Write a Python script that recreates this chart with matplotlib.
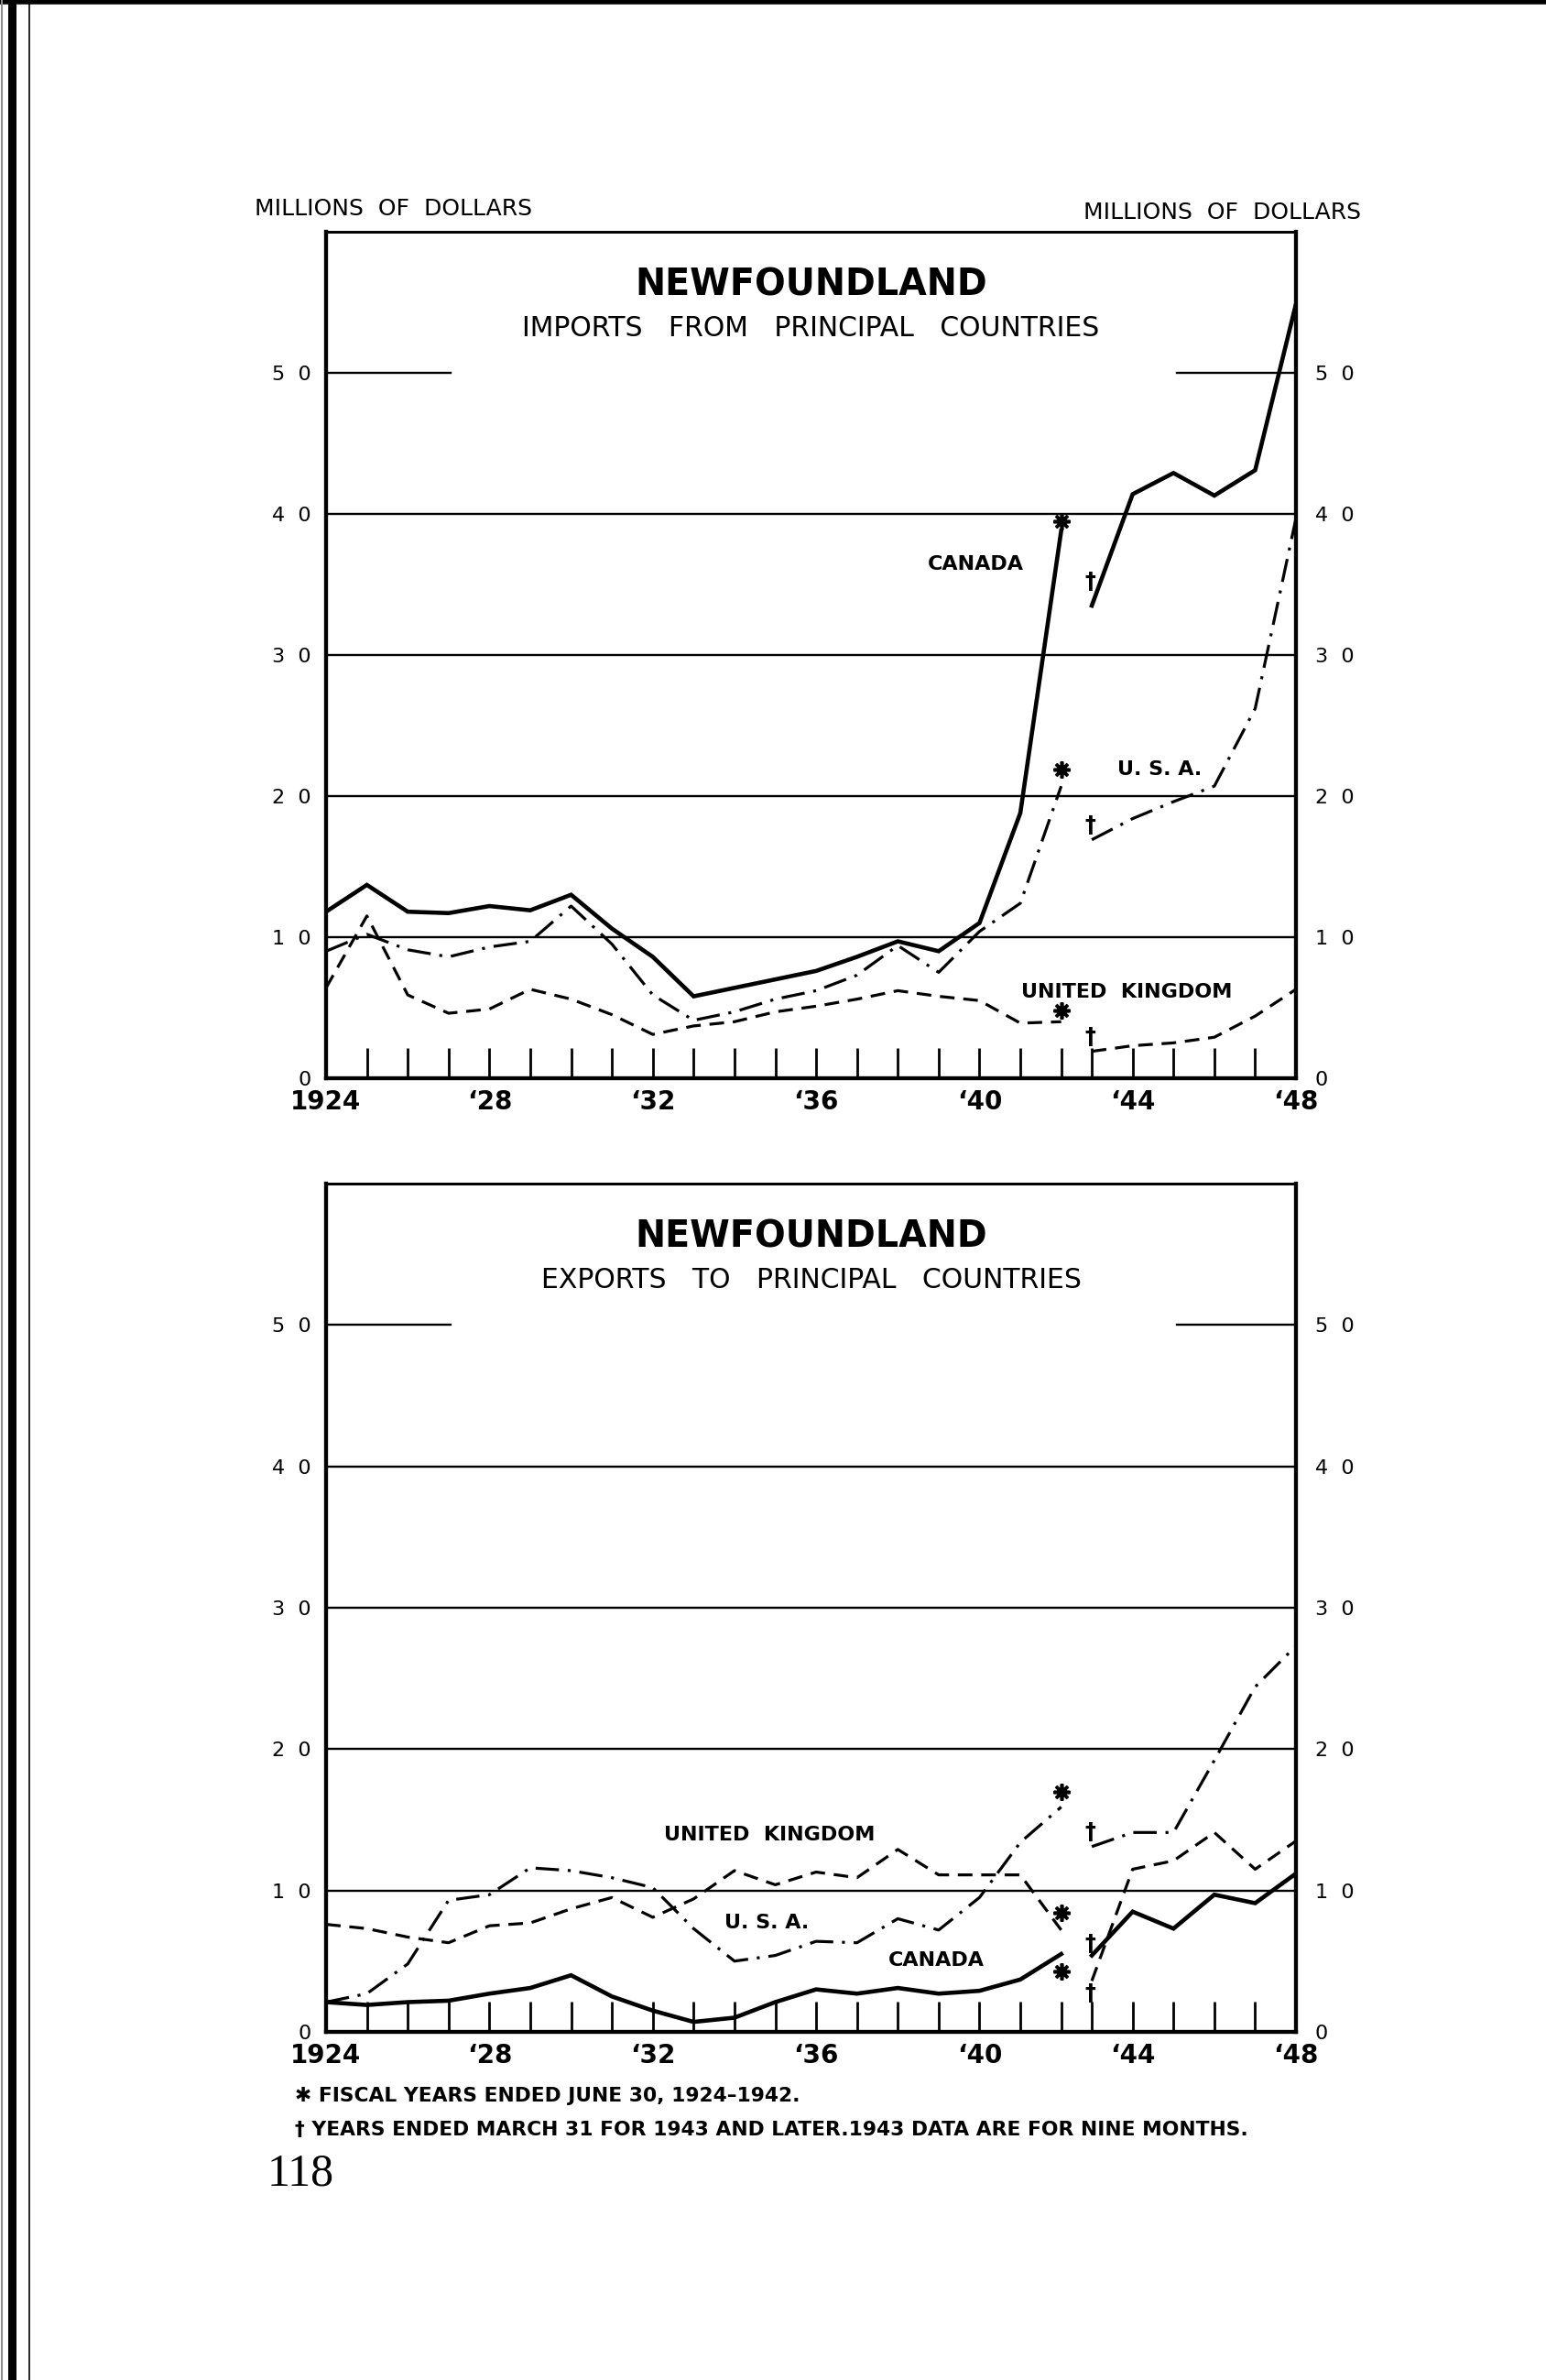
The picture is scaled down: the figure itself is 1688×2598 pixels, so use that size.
import matplotlib
matplotlib.use("Agg")
import matplotlib.pyplot as plt
from matplotlib.lines import Line2D

plt.rcParams['font.family'] = ['DejaVu Sans']

# fiscal years: 1924-1942 end June 30, 1943 on end March 31 (1943 = nine months)
years_a = list(range(1924, 1943))
years_b = list(range(1943, 1949))

# imports from principal countries, millions of dollars
canada_imp_a = [11.8, 13.7, 11.8, 11.7, 12.2, 11.9, 13.0, 10.6, 8.6, 5.8, 6.4, 7.0, 7.6, 8.6, 9.7, 9.0, 11.0, 18.8, 38.8]
canada_imp_b = [33.5, 41.4, 42.9, 41.3, 43.1, 54.9]
usa_imp_a = [9.0, 10.2, 9.1, 8.6, 9.3, 9.7, 12.2, 9.5, 5.9, 4.1, 4.7, 5.6, 6.2, 7.3, 9.4, 7.5, 10.4, 12.4, 20.7]
usa_imp_b = [16.9, 18.4, 19.6, 20.7, 26.2, 39.7]
uk_imp_a = [6.4, 11.5, 5.9, 4.6, 4.9, 6.3, 5.6, 4.5, 3.1, 3.7, 4.0, 4.7, 5.1, 5.6, 6.2, 5.8, 5.5, 3.9, 4.0]
uk_imp_b = [1.9, 2.3, 2.5, 2.9, 4.4, 6.3]

# exports to principal countries, millions of dollars
canada_exp_a = [2.1, 1.9, 2.1, 2.2, 2.7, 3.1, 4.0, 2.5, 1.5, 0.7, 1.0, 2.1, 3.0, 2.7, 3.1, 2.7, 2.9, 3.7, 5.5]
canada_exp_b = [5.4, 8.5, 7.3, 9.7, 9.1, 11.2]
usa_exp_a = [2.1, 2.7, 4.8, 9.3, 9.7, 11.6, 11.4, 10.9, 10.2, 7.3, 5.0, 5.4, 6.4, 6.3, 8.0, 7.2, 9.5, 13.4, 15.9]
usa_exp_b = [13.1, 14.1, 14.1, 19.2, 24.4, 27.3]
uk_exp_a = [7.6, 7.3, 6.7, 6.3, 7.5, 7.7, 8.7, 9.5, 8.1, 9.4, 11.4, 10.4, 11.3, 10.9, 12.9, 11.1, 11.1, 11.1, 7.2]
uk_exp_b = [3.6, 11.5, 12.1, 14.1, 11.5, 13.5]

# footnote symbols: star at 1942 end, dagger at 1943 start (canada, usa, uk)
star_imp = [39.5, 21.9, 4.8]
dagger_imp = [35.2, 17.9, 2.9]
star_exp = [4.3, 17.0, 8.4]
dagger_exp = [6.2, 14.1, 2.7]

y_ticks = [0, 10, 20, 30, 40, 50]
y_labels = ["0", "1  0", "2  0", "3  0", "4  0", "5  0"]


def xpos(year):
    # the nine-month 1943 year pulls later years a quarter to the left
    return year - 1924 - (0.25 if year >= 1943 else 0)


SOLID = dict(color="black", lw=3.3, solid_joinstyle="miter")
DASH = dict(color="black", lw=2.3, dashes=(5, 3))
DASHDOT = dict(color="black", lw=2.3, dashes=(8, 3, 1, 3))
COND = ['Liberation Sans Narrow', 'DejaVu Sans']


def panel(ax, title, subtitle, canada, usa, uk, stars, daggers, labels):
    xa = [xpos(y) for y in years_a]
    xb = [xpos(y) for y in years_b]
    ax.set_xlim(0, xpos(1948))
    ax.set_ylim(0, 60)

    for v in [10, 20, 30, 40]:
        ax.axhline(v, color="black", lw=1.7, zorder=1)
    ax.axhline(50, xmin=0, xmax=0.128, color="black", lw=1.7)
    ax.axhline(50, xmin=0.877, xmax=1, color="black", lw=1.7)

    ax.plot(xa, canada[0], **SOLID)
    ax.plot(xb, canada[1], **SOLID)
    ax.plot(xa, usa[0], **DASHDOT)
    ax.plot(xb, usa[1], **DASHDOT)
    ax.plot(xa, uk[0], **DASH)
    ax.plot(xb, uk[1], **DASH)

    for v in stars:
        ax.plot(xpos(1942), v, marker=(8, 2, 0), ms=13, mew=2.6, color="black")
    for v in daggers:
        ax.text(xpos(1943) - 0.05, v, "\u2020", ha="center", va="center",
                fontsize=17, fontweight="bold")

    all_years = years_a + years_b
    ax.set_xticks([xpos(y) for y in all_years])
    xl = []
    for y in all_years:
        if y == 1924:
            xl.append("1924")
        elif y % 4 == 0:
            xl.append("\u2018" + str(y)[2:])
        else:
            xl.append("")
    ax.set_xticklabels(xl, fontsize=20, fontweight="bold", family=COND)
    ax.tick_params(axis="x", direction="in", length=24, width=2, pad=9)

    ax.set_yticks(y_ticks)
    ax.set_yticklabels(y_labels, fontsize=16)
    ax.tick_params(axis="y", length=0, pad=12)
    ax2 = ax.twinx()
    ax2.set_ylim(0, 60)
    ax2.set_yticks(y_ticks)
    ax2.set_yticklabels(y_labels, fontsize=16)
    ax2.tick_params(axis="y", length=0, pad=15)

    for a in (ax, ax2):
        for s in ["left", "right", "bottom"]:
            a.spines[s].set_linewidth(3)
        a.spines["top"].set_linewidth(2)

    ax.text(0.5, 0.937, title, transform=ax.transAxes, ha="center", va="center",
            fontsize=28.5, fontweight="bold")
    ax.text(0.5, 0.886, subtitle, transform=ax.transAxes, ha="center", va="center",
            fontsize=21.5)
    for (txt, x, y) in labels:
        ax.text(x, y, txt, ha="center", va="center", fontsize=16, fontweight="bold")


fig = plt.figure(figsize=(16.88, 25.98), dpi=100)

ax_top = fig.add_axes([0.2109, 0.5470, 0.6274, 0.3556])
panel(ax_top, "NEWFOUNDLAND", "IMPORTS   FROM   PRINCIPAL   COUNTRIES",
      (canada_imp_a, canada_imp_b), (usa_imp_a, usa_imp_b), (uk_imp_a, uk_imp_b),
      star_imp, dagger_imp,
      [("CANADA", 15.9, 36.4), ("U. S. A.", 20.4, 21.9), ("UNITED  KINGDOM", 19.6, 6.1)])

ax_bot = fig.add_axes([0.2109, 0.1463, 0.6274, 0.3564])
panel(ax_bot, "NEWFOUNDLAND", "EXPORTS   TO   PRINCIPAL   COUNTRIES",
      (canada_exp_a, canada_exp_b), (usa_exp_a, usa_exp_b), (uk_exp_a, uk_exp_b),
      star_exp, dagger_exp,
      [("UNITED  KINGDOM", 10.85, 13.9), ("U. S. A.", 10.8, 7.7), ("CANADA", 14.94, 5.05)])

W, H = 1688, 2598
fig.text(278 / W, 1 - 228 / H, "MILLIONS  OF  DOLLARS", ha="left", va="center", fontsize=18)
fig.text(1486 / W, 1 - 232 / H, "MILLIONS  OF  DOLLARS", ha="right", va="center", fontsize=18)

fig.text(322 / W, 1 - 2288 / H, "\u2731 FISCAL YEARS ENDED JUNE 30, 1924\u20131942.",
         ha="left", va="center", fontsize=15.7, fontweight="bold", family=COND)
fig.text(322 / W, 1 - 2325 / H,
         "\u2020 YEARS ENDED MARCH 31 FOR 1943 AND LATER.1943 DATA ARE FOR NINE MONTHS.",
         ha="left", va="center", fontsize=15.7, fontweight="bold", family=COND)
fig.text(292 / W, 1 - 2373 / H, "118", ha="left", va="center", fontsize=36,
         family=["Liberation Serif", "DejaVu Serif"])

# scanned page edges
fig.add_artist(Line2D([0, 1], [1 - 2 / H, 1 - 2 / H], transform=fig.transFigure, color="black", lw=4))
fig.add_artist(Line2D([12.5 / W, 12.5 / W], [0, 1], transform=fig.transFigure, color="black", lw=6.5))
fig.add_artist(Line2D([32 / W, 32 / W], [0, 1], transform=fig.transFigure, color="black", lw=1.2))
fig.add_artist(Line2D([1.5 / W, 1.5 / W], [0, 1], transform=fig.transFigure, color="0.55", lw=1.5))

fig.savefig("out.png", dpi=100)
